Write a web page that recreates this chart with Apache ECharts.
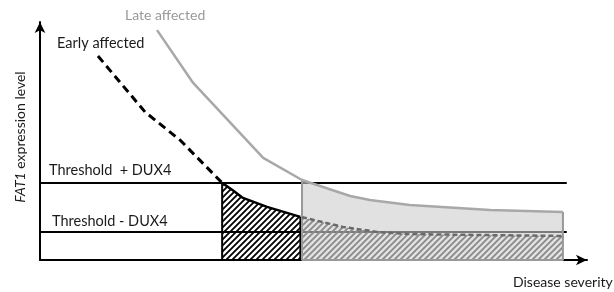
<!DOCTYPE html>
<html>
<head>
<meta charset="utf-8">
<script src="https://cdn.jsdelivr.net/npm/echarts@6/dist/echarts.min.js"></script>
<style>
  html, body { margin: 0; padding: 0; background: #fff; }
  #chart { width: 614px; height: 292px; }
</style>
</head>
<body>
<div id="chart"></div>
<script>
// curves (x: disease severity 0-100, y: FAT1 level 0-100)
var earlyCurve = [[10.6, 85.7], [19.2, 62.2], [25.6, 50.4], [33.3, 32.4], [35.3, 29.2], [37.1, 26.1], [41.5, 22.3],
  [47.6, 18.1], [47.9, 18.0], [55.4, 13.9], [61.6, 11.8], [67.6, 10.9], [80.4, 10.5], [95.6, 10.1]];
var lateCurve = [[21.4, 96.6], [28.0, 74.4], [40.8, 42.9], [47.9, 33.6], [56.7, 26.9], [60.3, 25.2],
  [67.6, 23.1], [82.3, 21.0], [95.6, 20.2]];
var thresholdPlus = 32.4;
var thresholdMinus = 11.8;
var thresholdEnd = 96.3;
var earlyWindow = [33.3, 47.6];
var lateWindow = [47.9, 95.6];

function inRange(curve, win) {
  return curve.filter(function (p) { return p[0] >= win[0] && p[0] <= win[1]; });
}
function valueAt(curve, x) {
  for (var i = 0; i < curve.length; i++) {
    if (curve[i][0] === x) return curve[i][1];
  }
  return 0;
}

// hatch pattern
function hatch(color) {
  var c = document.createElement('canvas');
  c.width = 6; c.height = 6;
  var ctx = c.getContext('2d');
  ctx.strokeStyle = color;
  ctx.lineWidth = 1.8;
  ctx.beginPath();
  ctx.moveTo(-1, 1); ctx.lineTo(1, -1);
  ctx.moveTo(0, 6); ctx.lineTo(6, 0);
  ctx.moveTo(5, 7); ctx.lineTo(7, 5);
  ctx.stroke();
  return { image: c, repeat: 'repeat' };
}

var earlyLead = earlyCurve.filter(function (p) { return p[0] <= earlyWindow[0]; });
var earlyPart1 = inRange(earlyCurve, earlyWindow);
var earlyPart2 = inRange(earlyCurve, lateWindow);
var lateAtStart = valueAt(lateCurve, lateWindow[0]);
var lateAtEnd = valueAt(lateCurve, lateWindow[1]);

var txt = '#1a1a1a';
var myChart = echarts.init(document.getElementById('chart'));
var option = {
  animation: false,
  grid: { left: 40, right: 27, top: 22, bottom: 32, containLabel: false, outerBoundsMode: 'none' },
  xAxis: {
    type: 'value', min: 0, max: 100,
    axisLine: { show: true, symbol: ['none', 'arrow'], symbolSize: [8, 11], lineStyle: { color: '#000', width: 2 } },
    axisTick: { show: false }, axisLabel: { show: false }, splitLine: { show: false }
  },
  yAxis: {
    type: 'value', min: 0, max: 100,
    axisLine: { show: true, symbol: ['none', 'arrow'], symbolSize: [8, 11], lineStyle: { color: '#000', width: 2 } },
    axisTick: { show: false }, axisLabel: { show: false }, splitLine: { show: false }
  },
  series: [
    // thresholds
    {
      type: 'line', z: 1, symbol: 'none', silent: true,
      data: [[0, thresholdPlus], [thresholdEnd, thresholdPlus]],
      lineStyle: { color: '#000', width: 2 }
    },
    {
      type: 'line', z: 1, symbol: 'none', silent: true,
      data: [[0, thresholdMinus], [thresholdEnd, thresholdMinus]],
      lineStyle: { color: '#000', width: 2 }
    },
    // late affected window fill
    {
      type: 'line', z: 2, symbol: 'none', silent: true,
      data: inRange(lateCurve, lateWindow),
      lineStyle: { width: 0 },
      areaStyle: { color: 'rgba(205,205,205,0.6)', opacity: 1 }
    },
    // hatched area under early curve, late window
    {
      type: 'line', z: 3, symbol: 'none', silent: true,
      data: earlyPart2,
      lineStyle: { width: 0 },
      areaStyle: { color: hatch('#8a8a8a'), opacity: 1 }
    },
    // hatched area under early curve, early window
    {
      type: 'line', z: 3, symbol: 'none', silent: true,
      data: earlyPart1,
      lineStyle: { width: 0 },
      areaStyle: { color: hatch('#000'), opacity: 1 }
    },
    // box edges
    {
      type: 'line', z: 4, symbol: 'none', silent: true,
      data: [[earlyWindow[0], thresholdPlus], [earlyWindow[0], 0], [earlyWindow[1], 0], [earlyWindow[1], valueAt(earlyCurve, earlyWindow[1])]],
      lineStyle: { color: '#000', width: 2 }
    },
    {
      type: 'line', z: 4, symbol: 'none', silent: true,
      data: [[lateWindow[0], lateAtStart], [lateWindow[0], 0], [lateWindow[1], 0], [lateWindow[1], lateAtEnd]],
      lineStyle: { color: '#999', width: 2 }
    },
    // early affected curve
    {
      type: 'line', z: 5, symbol: 'none', silent: true,
      data: earlyLead,
      lineStyle: { color: '#000', width: 3, type: [8, 5] }
    },
    {
      type: 'line', z: 5, symbol: 'none', silent: true,
      data: earlyPart1,
      lineStyle: { color: '#000', width: 2.5, join: 'round' }
    },
    {
      type: 'line', z: 5, symbol: 'none', silent: true,
      data: earlyPart2,
      lineStyle: { color: '#6a6a6a', width: 2.5, type: [5, 3] }
    },
    // late affected curve
    {
      type: 'line', z: 5, symbol: 'none', silent: true,
      data: lateCurve,
      lineStyle: { color: '#a8a8a8', width: 2.5 }
    }
  ],
  graphic: [
    { type: 'text', x: 125, y: 15, style: { text: 'Late affected', fill: '#999', font: '14px Lato', align: 'left', verticalAlign: 'middle' } },
    { type: 'text', x: 57, y: 43, style: { text: 'Early affected', fill: txt, font: '14.5px Lato', align: 'left', verticalAlign: 'middle' } },
    { type: 'text', x: 49, y: 170, style: { text: 'Threshold  + DUX4', fill: txt, font: '14.5px Lato', align: 'left', verticalAlign: 'middle' } },
    { type: 'text', x: 52, y: 221, style: { text: 'Threshold - DUX4', fill: txt, font: '14.5px Lato', align: 'left', verticalAlign: 'middle' } },
    { type: 'text', x: 513, y: 282, style: { text: 'Disease severity', fill: txt, font: '14px Lato', align: 'left', verticalAlign: 'middle' } },
    {
      type: 'text', x: 20, y: 137, rotation: Math.PI / 2,
      style: {
        text: '{i|FAT1} expression level', fill: txt, font: '14px Lato', align: 'center', verticalAlign: 'middle',
        rich: { i: { fontStyle: 'italic', font: 'italic 14px Lato', fill: txt } }
      }
    }
  ]
};
myChart.setOption(option);
</script>
</body>
</html>
